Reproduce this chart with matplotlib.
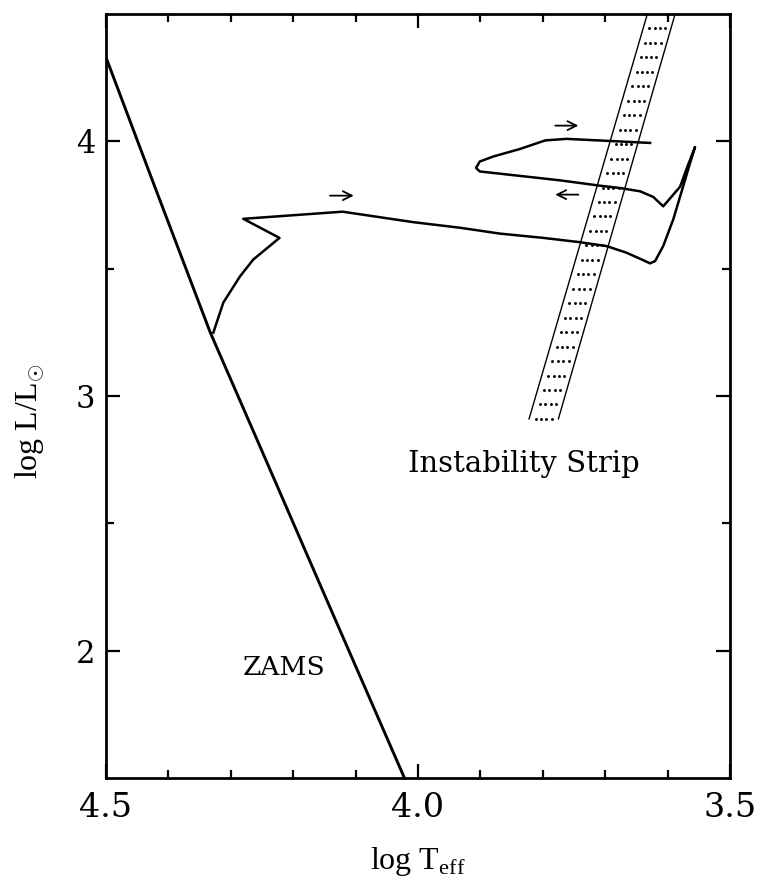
import numpy as np
import matplotlib.pyplot as plt

plt.rcParams['mathtext.fontset'] = 'custom'
plt.rcParams['mathtext.rm'] = 'Liberation Serif'

# zero-age main sequence
zams_logt = [4.50, 4.42, 4.333, 4.26, 4.15, 4.02]
zams_logl = [4.33, 3.81, 3.25, 2.84, 2.22, 1.49]

# evolutionary track (starts on the ZAMS)
track_logt = [4.328, 4.312, 4.285, 4.264, 4.222, 4.280, 4.121, 4.008, 3.933,
              3.869, 3.799, 3.740, 3.698, 3.666, 3.644, 3.628, 3.620, 3.607,
              3.591, 3.575, 3.564, 3.556, 3.567, 3.580, 3.607, 3.623, 3.644,
              3.676, 3.708, 3.772, 3.853, 3.901, 3.907, 3.901, 3.879, 3.837,
              3.796, 3.762, 3.703, 3.628]
track_logl = [3.249, 3.367, 3.471, 3.536, 3.621, 3.696, 3.724, 3.683, 3.661,
              3.638, 3.621, 3.604, 3.589, 3.563, 3.539, 3.521, 3.530, 3.589,
              3.693, 3.824, 3.915, 3.978, 3.909, 3.822, 3.745, 3.782, 3.804,
              3.817, 3.826, 3.847, 3.869, 3.882, 3.896, 3.921, 3.941, 3.970,
              4.004, 4.010, 4.003, 3.994]

# instability strip edges
strip_logl = [2.91, 4.50]
strip_blue_logt = [3.822, 3.6325]
strip_red_logt = [3.775, 3.588]

# direction arrows along the track
arrow_from = [4.141, 3.780, 3.743]
arrow_to = [4.103, 3.743, 3.780]
arrow_logl = [3.787, 4.062, 3.791]

fig = plt.figure(figsize=(7.6, 8.82), dpi=100)
ax = fig.add_axes([0.1395, 0.118, 0.821, 0.866])

ax.plot(zams_logt, zams_logl, color='black', lw=2.1)
ax.plot(track_logt, track_logl, color='black', lw=1.8, solid_joinstyle='round')

ax.plot(strip_blue_logt, strip_logl, color='black', lw=1.0)
ax.plot(strip_red_logt, strip_logl, color='black', lw=1.0)

# dotted fill of the strip
rows = np.arange(strip_logl[0], strip_logl[1], 0.0568)
xb = np.interp(rows, strip_logl, strip_blue_logt)
xr = np.interp(rows, strip_logl, strip_red_logt)
for f in [0.22, 0.41, 0.59, 0.78]:
    ax.plot(xb + f * (xr - xb), rows, ls='none', marker='o', ms=2.1,
            color='black', mew=0)

for x0, x1, y in zip(arrow_from, arrow_to, arrow_logl):
    ax.annotate('', xy=(x1, y), xytext=(x0, y),
                arrowprops=dict(arrowstyle='->', lw=1.3, color='black',
                                mutation_scale=16, shrinkA=0, shrinkB=0))

ax.text(3.831, 2.70, 'Instability Strip', fontsize=21, family='DejaVu Serif',
        ha='center', va='baseline')
ax.text(4.215, 1.903, 'ZAMS', fontsize=19, family='DejaVu Serif',
        ha='center', va='baseline')

ax.set_xlim(4.5, 3.5)
ax.set_ylim(1.5, 4.5)
ax.set_xticks([4.5, 4.0, 3.5])
ax.set_xticklabels(['4.5', '4.0', '3.5'], family='DejaVu Serif', fontsize=24)
ax.set_xticks(np.arange(3.6, 4.45, 0.1), minor=True)
ax.set_yticks([2, 3, 4])
ax.set_yticklabels(['2', '3', '4'], family='DejaVu Serif', fontsize=22)
ax.set_yticks([2.5, 3.5], minor=True)
ax.tick_params(which='both', direction='in', top=True, right=True, width=1.6)
ax.tick_params(which='major', length=10)
ax.tick_params(which='minor', length=5.5)
ax.tick_params(axis='x', which='major', pad=10)
ax.tick_params(axis='y', which='major', pad=8)
for s in ax.spines.values():
    s.set_linewidth(2.0)

ax.set_xlabel(r'log T$_{\rm eff}$', family='Liberation Serif', fontsize=23,
              va='center')
ax.xaxis.set_label_coords(0.5, -0.110)
ax.set_ylabel(r'log L/L$_{\odot}$', family='Liberation Serif', fontsize=23,
              va='center')
ax.yaxis.set_label_coords(-0.122, 0.467)

fig.savefig('out.png', dpi=100)
